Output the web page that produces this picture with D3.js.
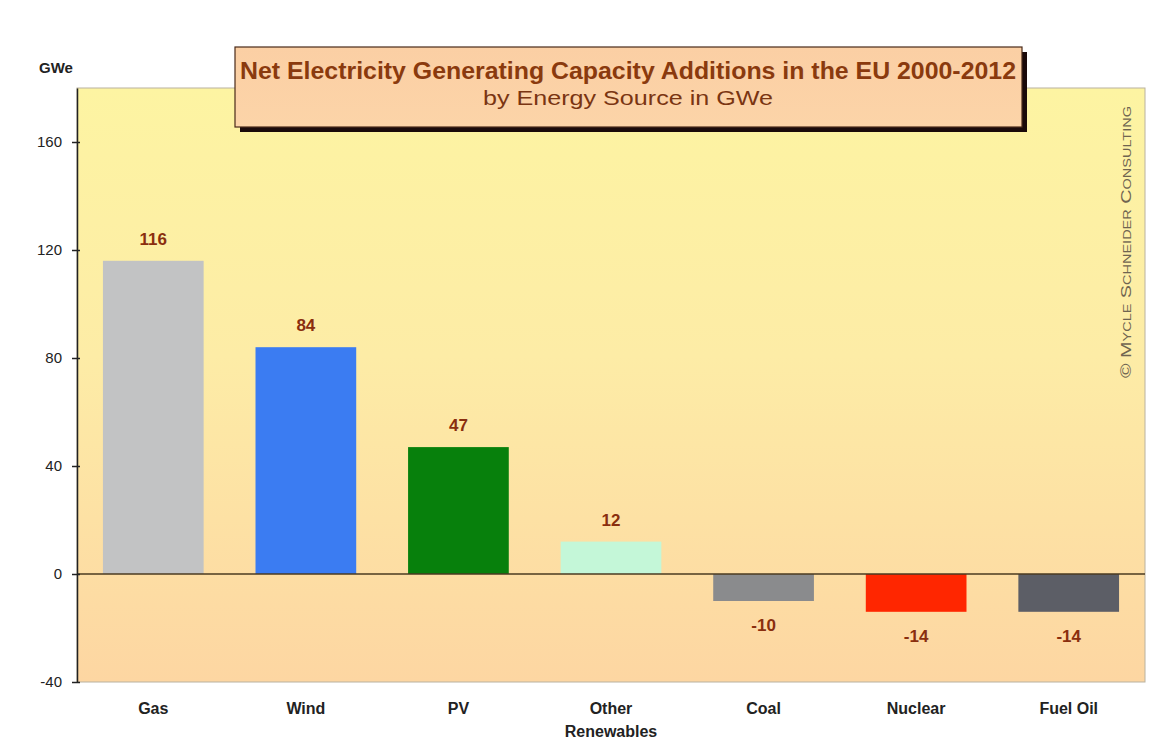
<!DOCTYPE html>
<html>
<head>
<meta charset="utf-8">
<script src="https://cdn.jsdelivr.net/npm/d3@7"></script>
<style>
  body { margin: 0; background: #fff; }
  text { font-family: "Liberation Sans", Arial, sans-serif; }
</style>
</head>
<body>
<svg id="chart" width="1168" height="742"></svg>
<script>
// data
const categories = ["Gas", "Wind", "PV", "Other\nRenewables", "Coal", "Nuclear", "Fuel Oil"];
const values = [116, 84, 47, 12, -10, -14, -14];
const barColors = ["#c2c3c4", "#3b7cf2", "#07800c", "#c4f7d8", "#8a8b8d", "#ff2600", "#5c5e66"];
const yTicks = [-40, 0, 40, 80, 120, 160];

const margin = {left: 77, right: 23, top: 88, bottom: 60};
const width = 1168, height = 742;

let svg = d3.select("#chart");

let x = d3.scaleBand()
  .domain(categories)
  .range([margin.left, width - margin.right])
  .paddingInner(0.34)
  .paddingOuter(0.17);

let y = d3.scaleLinear()
  .domain([-40, 180])
  .range([height - margin.bottom, margin.top]);

// background gradient
let defs = svg.append("defs");
let grad = defs.append("linearGradient").attr("id", "bg").attr("x1", 0).attr("y1", 0).attr("x2", 0).attr("y2", 1);
grad.append("stop").attr("offset", "0%").attr("stop-color", "#fdf4a2");
grad.append("stop").attr("offset", "45%").attr("stop-color", "#fdeca6");
grad.append("stop").attr("offset", "100%").attr("stop-color", "#fdd6a2");

let tgrad = defs.append("linearGradient").attr("id", "titlebg").attr("x1", 0).attr("y1", 0).attr("x2", 0).attr("y2", 1);
tgrad.append("stop").attr("offset", "0%").attr("stop-color", "#fbcfa4");
tgrad.append("stop").attr("offset", "100%").attr("stop-color", "#fcd4a8");

svg.append("rect")
  .attr("x", margin.left).attr("y", margin.top)
  .attr("width", width - margin.right - margin.left)
  .attr("height", height - margin.bottom - margin.top)
  .attr("fill", "url(#bg)")
  .attr("stroke", "#b9b2a0").attr("stroke-width", 1);

// bars
svg.selectAll(".bar")
  .data(values)
  .join("rect")
    .attr("class", "bar")
    .attr("x", (d, i) => x(categories[i]))
    .attr("width", x.bandwidth())
    .attr("y", d => y(Math.max(0, d)))
    .attr("height", d => Math.abs(y(d) - y(0)))
    .attr("fill", (d, i) => barColors[i]);

// zero line
svg.append("line")
  .attr("x1", margin.left).attr("x2", width - margin.right)
  .attr("y1", y(0)).attr("y2", y(0))
  .attr("stroke", "#4a3a20").attr("stroke-width", 1.5);

// value labels
svg.selectAll(".val")
  .data(values)
  .join("text")
    .attr("class", "val")
    .attr("x", (d, i) => x(categories[i]) + x.bandwidth() / 2)
    .attr("y", d => d >= 0 ? y(d) - 16 : y(d) + 30)
    .attr("text-anchor", "middle")
    .style("font-size", "17px")
    .style("font-weight", "bold")
    .style("fill", "#8a2e0e")
    .text(d => d);

// y axis
let yAxis = svg.append("g")
  .attr("transform", `translate(${margin.left},0)`)
  .call(d3.axisLeft(y).tickValues(yTicks).tickSize(5).tickSizeOuter(0).tickFormat(d => String(d)));
yAxis.select(".domain").attr("stroke", "#222").attr("stroke-width", 1.5);
yAxis.selectAll(".tick line").attr("stroke", "#222").attr("stroke-width", 1.5)
  .attr("x1", 3).attr("x2", -5);
yAxis.selectAll(".tick text")
  .attr("x", -15)
  .style("font-size", "15px")
  .style("fill", "#222")
  .style("font-family", "'Liberation Sans', Arial, sans-serif");

svg.append("text")
  .attr("x", 39).attr("y", 73)
  .style("font-size", "15px").style("font-weight", "bold").style("fill", "#222")
  .text("GWe");

// category labels
let cat = svg.selectAll(".cat")
  .data(categories)
  .join("text")
    .attr("class", "cat")
    .attr("x", d => x(d) + x.bandwidth() / 2)
    .attr("y", 714)
    .attr("text-anchor", "middle")
    .style("font-size", "16px")
    .style("font-weight", "bold")
    .style("fill", "#222");
cat.selectAll("tspan")
  .data(d => d.split("\n"))
  .join("tspan")
    .attr("x", function() { return d3.select(this.parentNode).attr("x"); })
    .attr("dy", (d, i) => i === 0 ? 0 : 23)
    .text(d => d);

// title box
svg.append("rect")
  .attr("x", 240).attr("y", 52).attr("width", 787).attr("height", 80)
  .attr("fill", "#1a0a0a");
svg.append("rect")
  .attr("x", 235).attr("y", 47).attr("width", 787).attr("height", 80)
  .attr("fill", "url(#titlebg)")
  .attr("stroke", "#4a2a1a").attr("stroke-width", 1.2);
svg.append("text")
  .attr("x", 628).attr("y", 79)
  .attr("text-anchor", "middle")
  .attr("textLength", 776).attr("lengthAdjust", "spacingAndGlyphs")
  .style("font-size", "23px").style("font-weight", "bold").style("fill", "#8a3a0e")
  .text("Net Electricity Generating Capacity Additions in the EU 2000-2012");
svg.append("text")
  .attr("x", 628).attr("y", 105)
  .attr("text-anchor", "middle")
  .attr("textLength", 290).attr("lengthAdjust", "spacingAndGlyphs")
  .style("font-size", "21px").style("fill", "#7a3512")
  .text("by Energy Source in GWe");

// watermark
svg.append("text")
  .attr("transform", "translate(1131,242) rotate(-90)")
  .attr("text-anchor", "middle")
  .attr("textLength", 272).attr("lengthAdjust", "spacingAndGlyphs")
  .style("font-size", "15px")
  .style("font-weight", "500")
  .style("fill", "#6f6450")
  .style("font-variant", "small-caps")
  .text("© Mycle Schneider Consulting");
</script>
</body>
</html>
